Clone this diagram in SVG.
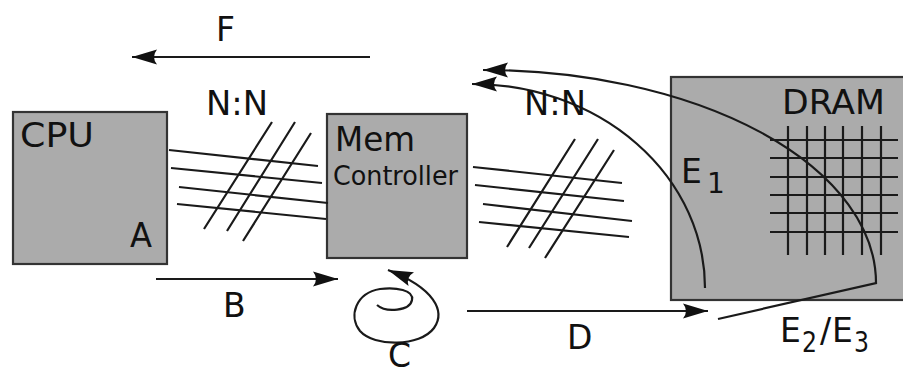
<svg xmlns="http://www.w3.org/2000/svg" width="903" height="376" viewBox="0 0 903 376">
<style>
.box{fill:#ababab;stroke:#333;stroke-width:2.2}
.ln{fill:none;stroke:#1a1a1a;stroke-width:2.2}
.ar{fill:none;stroke:#1a1a1a;stroke-width:2.2;marker-end:url(#ah)}
.t{font-family:"DejaVu Sans",sans-serif;font-size:33px;fill:#111}
.s{font-family:"DejaVu Sans",sans-serif;font-size:28px;fill:#111}
.c{font-family:"DejaVu Sans",sans-serif;font-size:26px;fill:#111}
</style>
<defs>
<marker id="ah" markerUnits="userSpaceOnUse" markerWidth="30" markerHeight="20" viewBox="-26 -10 30 20" refX="0" refY="0" orient="auto" overflow="visible">
<path d="M0,0 L-25,-7.5 Q-19,0 -25,7.5 Z" fill="#111"/>
</marker>
</defs>
<rect width="903" height="376" fill="#fff"/>
<g id="cpu">
<rect class="box" x="13" y="112" width="154" height="152"/>
<text class="t" x="20" y="147" textLength="74" lengthAdjust="spacingAndGlyphs">CPU</text>
<text class="t" x="130" y="247" textLength="22" lengthAdjust="spacingAndGlyphs">A</text>
</g>
<g id="memctrl">
<rect class="box" x="327" y="114" width="140" height="144"/>
<text class="t" x="335" y="151" textLength="80" lengthAdjust="spacingAndGlyphs">Mem</text>
<text class="c" x="333" y="185" textLength="125" lengthAdjust="spacingAndGlyphs">Controller</text>
</g>
<g id="dram">
<rect class="box" x="671" y="77" width="240" height="223"/>
<text class="t" x="782" y="114" textLength="103" lengthAdjust="spacingAndGlyphs">DRAM</text>
<g class="ln">
<path d="M788,126V255M807,126V255M825,126V255M843,126V255M862,126V255M881,126V255"/>
<path d="M770,140H898M770,158H898M770,177H898M770,195H898M770,213H898M770,232H898"/>
</g>
</g>
<g id="bus-left" class="ln">
<path d="M169,150L318,166M171,168L322,183M179,187L328,203M177,204L326,219"/>
<path d="M272,122L204,229M295,122L227,231M311,133L243,241"/>
</g>
<g id="bus-right" class="ln">
<path d="M473,167L622,183M475,185L624,201M483,204L632,221M479,222L629,237"/>
<path d="M575,139L507,247M598,139L529,248M614,150L545,258"/>
</g>
<g id="connectors">
<path class="ar" d="M370,57L132,57"/>
<path class="ar" d="M156,279L338,279"/>
<path class="ar" d="M467,311L708,311"/>
<path class="ar" d="M377,305 C386,313 410,311 412,300 C414,290 396,287 380,289 C356,293 348,316 360,331 C374,347 420,347 434,328 C446,311 434,288 388,270"/>
<path class="ar" d="M705,288 A233 204 0 0 0 472 84"/>
<path class="ar" d="M718,319 L876,283 A393 213 0 0 0 483 70"/>
</g>
<g id="labels">
<text class="t" x="216" y="41">F</text>
<text class="t" x="206" y="115" textLength="62" lengthAdjust="spacingAndGlyphs">N:N</text>
<text class="t" x="524" y="115" textLength="62" lengthAdjust="spacingAndGlyphs">N:N</text>
<text class="t" x="223" y="317">B</text>
<text class="t" x="388" y="367" font-size="30">C</text>
<text class="t" x="567" y="349">D</text>
<text class="t" x="681" y="183">E</text>
<text class="s" x="707" y="193">1</text>
<text class="t" x="780" y="342">E</text>
<text class="s" x="802" y="352" textLength="15" lengthAdjust="spacingAndGlyphs">2</text>
<text class="t" x="820" y="342">/</text>
<text class="t" x="832" y="342">E</text>
<text class="s" x="854" y="352" textLength="15" lengthAdjust="spacingAndGlyphs">3</text>
</g>
</svg>
